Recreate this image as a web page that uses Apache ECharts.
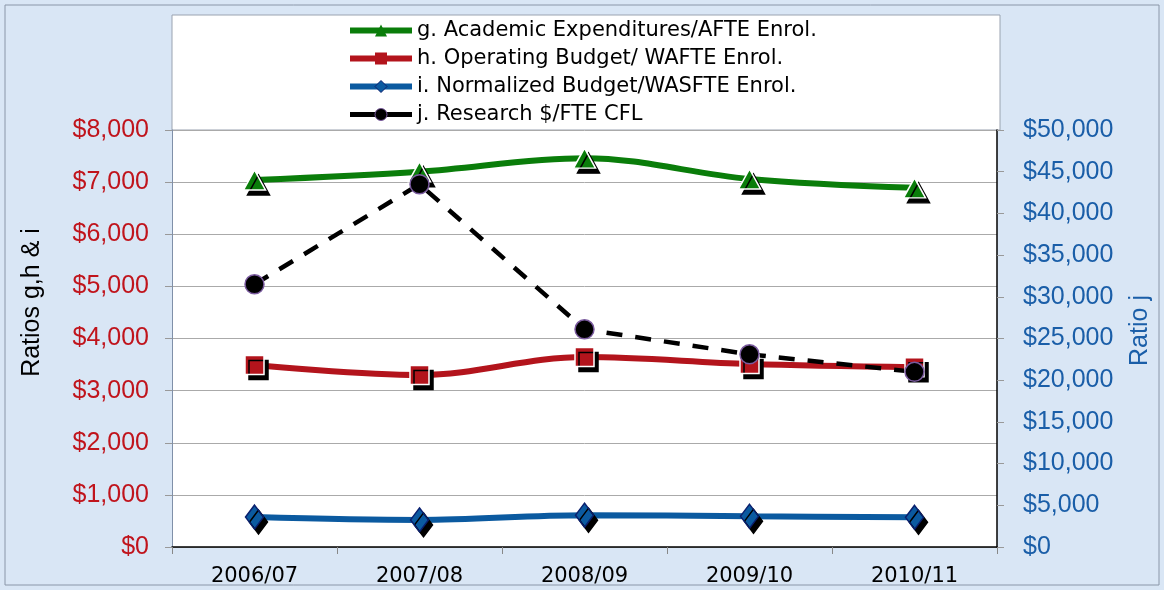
<!DOCTYPE html>
<html>
<head>
<meta charset="utf-8">
<script src="https://cdn.jsdelivr.net/npm/echarts@6/dist/echarts.min.js"></script>
<style>
  html, body { margin: 0; padding: 0; background: #dae6f4; }
  #chart { width: 1164px; height: 590px; }
</style>
</head>
<body>
<div id="chart"></div>
<script>
const years = ['2006/07', '2007/08', '2008/09', '2009/10', '2010/11']
const academicExp = [7040, 7200, 7460, 7060, 6890]
const operatingBudget = [3490, 3300, 3645, 3510, 3450]
const normalizedBudget = [575, 520, 610, 590, 570]
const researchPerFte = [31500, 43500, 26100, 23100, 21000]

const money = v => '$' + v.toLocaleString('en-US')
const shadow = { shadowColor: '#000', shadowBlur: 0, shadowOffsetX: 4, shadowOffsetY: 5 }

const chart = echarts.init(document.getElementById('chart'))
chart.setOption({
  backgroundColor: '#d9e6f5',
  animation: false,
  graphic: [
    { type: 'rect', shape: { x: 5, y: 5, width: 1154, height: 580 },
      style: { fill: 'none', stroke: '#8a96a8', lineWidth: 1 }, z: -10 },
    { type: 'rect', shape: { x: 172, y: 15, width: 828, height: 115 },
      style: { fill: '#fff', stroke: '#9aa3b0', lineWidth: 1 }, z: -5 }
  ],
  legend: {
    orient: 'vertical',
    left: 342,
    top: 15,
    itemWidth: 62,
    itemHeight: 15,
    itemGap: 7,
    textStyle: { fontFamily: 'DejaVu Sans', fontSize: 21, color: '#000', lineHeight: 21 },
    itemStyle: { shadowColor: 'transparent', shadowOffsetX: 0, shadowOffsetY: 0, borderWidth: 0 },
    data: [
      { name: 'g. Academic Expenditures/AFTE Enrol.', lineStyle: { width: 6 } },
      { name: 'h. Operating Budget/ WAFTE Enrol.', lineStyle: { width: 6 } },
      { name: 'i. Normalized Budget/WASFTE Enrol.', lineStyle: { width: 6 }, itemStyle: { borderWidth: 1, borderColor: '#0a1f6e' } },
      { name: 'j. Research $/FTE CFL', lineStyle: { width: 5, type: 'solid' }, itemStyle: { borderWidth: 1, borderColor: '#7a5a9e' } }
    ]
  },
  grid: { left: 172, right: 167, top: 130, bottom: 43, show: true, backgroundColor: '#fff', borderWidth: 0 },
  xAxis: {
    type: 'category',
    data: years,
    boundaryGap: true,
    axisLine: { lineStyle: { color: '#000', width: 1.5 } },
    axisTick: { show: true, length: 7, lineStyle: { color: '#888' } },
    axisLabel: { fontFamily: 'DejaVu Sans', fontSize: 21, color: '#000', margin: 19 }
  },
  yAxis: [
    {
      type: 'value', min: 0, max: 8000, interval: 1000,
      name: 'Ratios g,h & i', nameLocation: 'middle', nameGap: 127, nameRotate: 90,
      nameTextStyle: { fontFamily: 'Liberation Sans', fontSize: 25, color: '#000', padding: [0, 0, 0, 72] },
      axisLine: { show: true, lineStyle: { color: '#8090a8' } },
      axisTick: { show: true, length: 7, lineStyle: { color: '#999' } },
      axisLabel: { fontFamily: 'Liberation Sans', fontSize: 25, color: '#c0141c', margin: 23, formatter: money },
      splitLine: { lineStyle: { color: '#aaa', width: 1 } }
    },
    {
      type: 'value', min: 0, max: 50000, interval: 5000, position: 'right',
      name: 'Ratio j', nameLocation: 'middle', nameGap: 131, nameRotate: 90,
      nameTextStyle: { fontFamily: 'Liberation Sans', fontSize: 25, color: '#1a5ea8', padding: [0, 0, 0, 16] },
      axisLine: { show: true, lineStyle: { color: '#000', width: 1.5 } },
      axisTick: { show: true, length: 7, lineStyle: { color: '#999' } },
      axisLabel: { fontFamily: 'Liberation Sans', fontSize: 25, color: '#1a5ea8', margin: 26, formatter: money },
      splitLine: { show: false }
    }
  ],
  series: [
    {
      name: 'g. Academic Expenditures/AFTE Enrol.',
      type: 'line', data: academicExp, smooth: 0.35,
      symbol: 'triangle', symbolSize: [22, 20],
      lineStyle: { color: '#0a7d0a', width: 6 },
      itemStyle: { color: '#0a7d0a', borderColor: '#fff', borderWidth: 1.5, ...shadow }
    },
    {
      name: 'h. Operating Budget/ WAFTE Enrol.',
      type: 'line', data: operatingBudget, smooth: 0.35,
      symbol: 'rect', symbolSize: 19,
      lineStyle: { color: '#b3141c', width: 6 },
      itemStyle: { color: '#b3141c', borderColor: '#fff', borderWidth: 1.5, ...shadow }
    },
    {
      name: 'i. Normalized Budget/WASFTE Enrol.',
      type: 'line', data: normalizedBudget, smooth: 0.35,
      symbol: 'diamond', symbolSize: [18, 24],
      lineStyle: { color: '#0b5aa0', width: 6 },
      itemStyle: { color: '#0b5aa0', borderColor: '#0a1f6e', borderWidth: 1.5, ...shadow }
    },
    {
      name: 'j. Research $/FTE CFL',
      type: 'line', data: researchPerFte, yAxisIndex: 1,
      symbol: 'circle', symbolSize: 19,
      lineStyle: { color: '#000', width: 4.5, type: [16, 13] },
      itemStyle: { color: '#000', borderColor: '#7a5a9e', borderWidth: 1.5 }
    }
  ]
})
</script>
</body>
</html>
